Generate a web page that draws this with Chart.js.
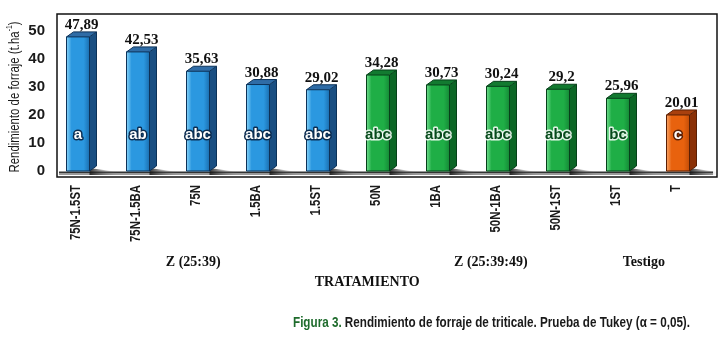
<!DOCTYPE html>
<html>
<head>
<meta charset="utf-8">
<script src="https://cdn.jsdelivr.net/npm/chart.js@4.4.1/dist/chart.umd.min.js"></script>
<style>
    html, body { margin: 0; padding: 0; background: #fff; }
    #wrap { width: 728px; height: 337px; }
</style>
</head>
<body>
<div id="wrap"><canvas id="forrajeChart" width="728" height="337"></canvas></div>
<script>
// datos
const tratamientos = ['75N-1.5ST', '75N-1.5BA', '75N', '1.5BA', '1.5ST', '50N', '1BA', '50N-1BA', '50N-1ST', '1ST', 'T'];
const rendimiento = [47.89, 42.53, 35.63, 30.88, 29.02, 34.28, 30.73, 30.24, 29.2, 25.96, 20.01];
const etiquetasValor = ['47,89', '42,53', '35,63', '30,88', '29,02', '34,28', '30,73', '30,24', '29,2', '25,96', '20,01'];
const letrasTukey = ['a', 'ab', 'abc', 'abc', 'abc', 'abc', 'abc', 'abc', 'abc', 'bc', 'c'];
const grupoBarra = [0, 0, 0, 0, 0, 1, 1, 1, 1, 1, 2];
const grupos = ['Z (25:39)', 'Z (25:39:49)', 'Testigo'];
const grupoPos = [1.92, 6.88, 9.43];
const yTicks = [0, 10, 20, 30, 40, 50];

const colores = [
    { front: '#2b98e0', light: '#86d3f8', dark: '#1b6fb0', side: '#1a4f82', top: '#2f6ca6', edge: '#0d3258', txt: '#ffffff', txtEdge: '#0b2c50' },
    { front: '#1fae46', light: '#6fdc8c', dark: '#158a36', side: '#0c6626', top: '#127a30', edge: '#07401a', txt: '#064a1b', txtEdge: 'rgba(255,255,255,0.85)' },
    { front: '#e8620e', light: '#f8a466', dark: '#c24d08', side: '#8a3006', top: '#a8400e', edge: '#5a1f04', txt: '#ffffff', txtEdge: '#5a1f04' }
];

const DX = 7, DY = 5;
const frameShift = 9;
const letraValor = 12.9;
const serif = "'Liberation Serif', 'Times New Roman', serif";
const sans = "'Liberation Sans', Arial, sans-serif";

function drawBar3d(ctx, bar, col) {
    const w = bar.width, l = bar.x - w / 2, r = bar.x + w / 2, t = bar.y, b = bar.base;
    const g = ctx.createLinearGradient(l, 0, r, 0);
    g.addColorStop(0, col.light);
    g.addColorStop(0.22, col.front);
    g.addColorStop(0.75, col.front);
    g.addColorStop(1, col.dark);
    ctx.fillStyle = g;
    ctx.fillRect(l, t, w, b - t);

    ctx.fillStyle = col.side;
    ctx.beginPath();
    ctx.moveTo(r, t); ctx.lineTo(r + DX, t - DY); ctx.lineTo(r + DX, b - DY); ctx.lineTo(r, b);
    ctx.closePath(); ctx.fill();

    ctx.fillStyle = col.top;
    ctx.beginPath();
    ctx.moveTo(l, t); ctx.lineTo(l + DX, t - DY); ctx.lineTo(r + DX, t - DY); ctx.lineTo(r, t);
    ctx.closePath(); ctx.fill();

    ctx.strokeStyle = col.edge;
    ctx.lineWidth = 1;
    ctx.beginPath();
    ctx.moveTo(l, b); ctx.lineTo(l, t); ctx.lineTo(l + DX, t - DY); ctx.lineTo(r + DX, t - DY);
    ctx.lineTo(r + DX, b - DY); ctx.lineTo(r, b); ctx.closePath();
    ctx.moveTo(r, b); ctx.lineTo(r, t); ctx.lineTo(r + DX, t - DY);
    ctx.moveTo(l, t); ctx.lineTo(r, t);
    ctx.stroke();
}

const decoPlugin = {
    id: 'deco',
    beforeDatasetsDraw(chart) {
        const ctx = chart.ctx, area = chart.chartArea;
        const base = chart.scales.y.getPixelForValue(0);
        ctx.save();
        ctx.strokeStyle = '#9a9a9a';
        ctx.lineWidth = 1;
        ctx.beginPath();
        ctx.moveTo(area.left + frameShift + 2, base + 3.5);
        ctx.lineTo(area.right + frameShift - 4, base + 3.5);
        ctx.stroke();
        ctx.strokeStyle = '#333';
        ctx.lineWidth = 2;
        ctx.beginPath();
        ctx.moveTo(area.left + frameShift + 2, base + 1.5);
        ctx.lineTo(area.right + frameShift - 4, base + 1.5);
        ctx.stroke();
        chart.getDatasetMeta(0).data.forEach(bar => {
            const r = bar.x + bar.width / 2;
            const g = ctx.createLinearGradient(r, 0, r + 28, 0);
            g.addColorStop(0, 'rgba(20,20,20,0.85)');
            g.addColorStop(1, 'rgba(120,120,120,0)');
            ctx.fillStyle = g;
            ctx.beginPath();
            ctx.moveTo(r, base - 3); ctx.lineTo(r + 28, base + 1); ctx.lineTo(r + 28, base + 4); ctx.lineTo(r, base + 4);
            ctx.closePath(); ctx.fill();
        });
        ctx.restore();
    },
    afterDatasetsDraw(chart) {
        const ctx = chart.ctx;
        const yScale = chart.scales.y;
        ctx.save();
        chart.getDatasetMeta(0).data.forEach((bar, i) => {
            const col = colores[grupoBarra[i]];
            drawBar3d(ctx, bar, col);

            ctx.font = 'bold 15px ' + serif;
            ctx.fillStyle = '#111';
            ctx.textAlign = 'center';
            ctx.textBaseline = 'alphabetic';
            ctx.fillText(etiquetasValor[i], bar.x + DX / 2, bar.y - 8);

            ctx.font = 'bold 15px ' + sans;
            ctx.textBaseline = 'middle';
            ctx.lineJoin = 'round';
            ctx.lineWidth = 3;
            ctx.strokeStyle = col.txtEdge;
            const ly = yScale.getPixelForValue(letraValor);
            ctx.strokeText(letrasTukey[i], bar.x, ly);
            ctx.fillStyle = col.txt;
            ctx.fillText(letrasTukey[i], bar.x, ly);
        });
        ctx.restore();
    },
    afterDraw(chart) {
        const ctx = chart.ctx, area = chart.chartArea;
        const xScale = chart.scales.x;
        ctx.save();

        // marco
        ctx.strokeStyle = '#111';
        ctx.lineWidth = 1.5;
        ctx.strokeRect(area.left + frameShift, area.top, area.right - area.left, area.bottom - area.top);

        // etiquetas del eje x
        ctx.fillStyle = '#1a1a1a';
        ctx.font = 'bold 15px ' + sans;
        tratamientos.forEach((lab, i) => {
            const x = xScale.getPixelForValue(i) - 2;
            ctx.save();
            ctx.translate(x, area.bottom + 8);
            ctx.rotate(-Math.PI / 2);
            ctx.scale(0.76, 1);
            ctx.textAlign = 'right';
            ctx.textBaseline = 'middle';
            ctx.fillText(lab, 0, 0);
            ctx.restore();
        });

        // grupos y titulo del eje x
        ctx.font = 'bold 14px ' + serif;
        ctx.fillStyle = '#111';
        ctx.textAlign = 'center';
        ctx.textBaseline = 'middle';
        grupos.forEach((g, i) => {
            ctx.fillText(g, xScale.getPixelForValue(grupoPos[i]), 262);
        });
        ctx.fillText('TRATAMIENTO', xScale.getPixelForValue(4.82), 282);

        // titulo del eje y
        ctx.save();
        ctx.translate(15, 97);
        ctx.rotate(-Math.PI / 2);
        ctx.font = '15px ' + sans;
        const main = 'Rendimiento de forraje (t.ha';
        const wMain = ctx.measureText(main).width;
        ctx.font = '9px ' + sans;
        const wSup = ctx.measureText('-1').width;
        ctx.font = '15px ' + sans;
        const wEnd = ctx.measureText(')').width;
        const total = wMain + wSup + wEnd;
        ctx.scale(151 / total, 1);
        ctx.translate(-total / 2, 0);
        ctx.textAlign = 'left';
        ctx.textBaseline = 'middle';
        ctx.fillStyle = '#1a1a1a';
        ctx.fillText(main, 0, 0);
        ctx.font = '9px ' + sans;
        ctx.fillText('-1', wMain, -5);
        ctx.font = '15px ' + sans;
        ctx.fillText(')', wMain + wSup, 0);
        ctx.restore();

        // leyenda de la figura
        ctx.save();
        ctx.font = 'bold 15px ' + sans;
        const p1 = 'Figura 3.';
        const p2 = ' Rendimiento de forraje de triticale. Prueba de Tukey (\u03b1 = 0,05).';
        const w1 = ctx.measureText(p1).width;
        const w2 = ctx.measureText(p2).width;
        ctx.translate(293, 323);
        ctx.scale(397 / (w1 + w2), 1);
        ctx.textAlign = 'left';
        ctx.textBaseline = 'middle';
        ctx.fillStyle = '#1e6b2c';
        ctx.fillText(p1, 0, 0);
        ctx.fillStyle = '#1a1a1a';
        ctx.fillText(p2, w1, 0);
        ctx.restore();

        ctx.restore();
    }
};

const ctx = document.getElementById('forrajeChart').getContext('2d');
const chart = new Chart(ctx, {
    type: 'bar',
    data: {
        labels: tratamientos,
        datasets: [{
            label: 'Rendimiento de forraje',
            data: rendimiento,
            backgroundColor: grupoBarra.map(g => colores[g].front),
            borderWidth: 0,
            barThickness: 23
        }]
    },
    options: {
        responsive: false,
        animation: false,
        devicePixelRatio: 1,
        layout: { padding: { top: 14, left: 0, right: 20, bottom: 0 } },
        plugins: {
            legend: { display: false },
            tooltip: { enabled: false }
        },
        scales: {
            x: {
                grid: { display: false, drawTicks: false },
                border: { display: false },
                ticks: { display: false },
                afterFit(scale) { scale.height = 160; }
            },
            y: {
                min: -2.14,
                max: 56.07,
                grid: { display: false, drawTicks: false },
                border: { display: false },
                afterBuildTicks(scale) { scale.ticks = yTicks.map(v => ({ value: v })); },
                ticks: {
                    color: '#1a1a1a',
                    padding: 3,
                    font: { family: sans, size: 15, weight: 'bold' }
                },
                afterFit(scale) { scale.width = 48; }
            }
        }
    },
    plugins: [decoPlugin]
});
</script>
</body>
</html>
